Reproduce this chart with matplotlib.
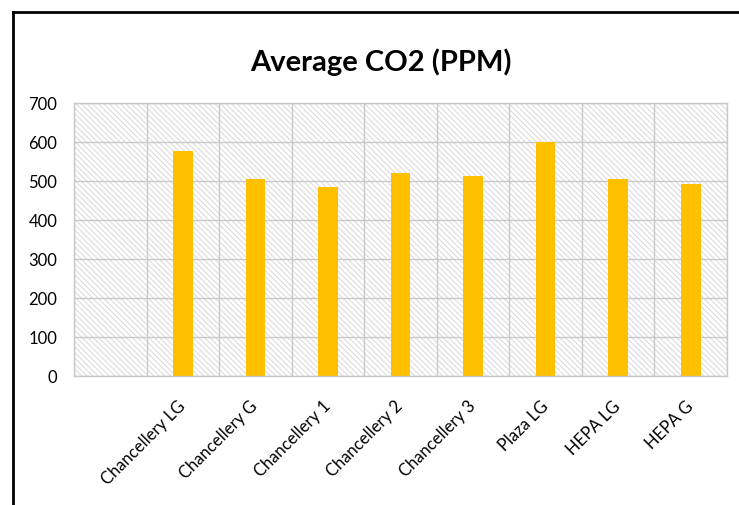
import matplotlib.pyplot as plt
import numpy as np
from matplotlib.patches import Rectangle
from matplotlib.lines import Line2D
from matplotlib.ticker import FixedLocator

# Leading blank slot is part of the source table (empty first row).
locations = ["", "Chancellery LG", "Chancellery G", "Chancellery 1", "Chancellery 2",
             "Chancellery 3", "Plaza LG", "HEPA LG", "HEPA G"]
avg_co2 = [np.nan, 578, 504, 484, 520, 513, 599, 506, 492]
y_ticks = [0, 100, 200, 300, 400, 500, 600, 700]

BAR_COLOR = "#FFC000"
GRID_COLOR = "#c9c9c9"

plt.rcParams["font.family"] = ["Lato", "DejaVu Sans"]
plt.rcParams["hatch.color"] = "#d2d2d2"
plt.rcParams["hatch.linewidth"] = 0.6

fig = plt.figure(figsize=(7.39, 5.05), dpi=100)
ax = fig.add_axes([0.1001, 0.2554, 0.8837, 0.5406])

x = np.arange(len(locations))
ax.add_patch(Rectangle((0, 0), 1, 1, transform=ax.transAxes, facecolor="white",
                       edgecolor="#d2d2d2", hatch="\\" * 6, lw=0, zorder=0.1))
ax.bar(x, avg_co2, width=0.27, color=BAR_COLOR, zorder=2)

ax.set_xlim(-0.5, len(locations) - 0.5)
ax.set_ylim(0, 700)
ax.set_yticks(y_ticks)
ax.set_xticks(x)
ax.set_xticklabels(locations, rotation=45, ha="right", va="center",
                   rotation_mode="anchor", fontsize=12)
ax.xaxis.set_minor_locator(FixedLocator(np.arange(len(locations) + 1) - 0.5))
ax.tick_params(axis="both", which="both", length=0)
ax.tick_params(axis="y", labelsize=12, pad=12)
ax.tick_params(axis="x", pad=20)

ax.set_axisbelow(True)
ax.grid(True, axis="y", color=GRID_COLOR, lw=1)
ax.grid(True, axis="x", which="minor", color=GRID_COLOR, lw=1)
for s in ax.spines.values():
    s.set_color(GRID_COLOR)
    s.set_linewidth(1)

fig.text(381 / 739, 1 - 62 / 505, "Average CO2 (PPM)", ha="center", va="center",
         fontsize=21, fontweight="bold")

# chart frame, clipped on the right and bottom
fig.add_artist(Line2D([13 / 739, 13 / 739], [0, 1 - 12 / 505], transform=fig.transFigure,
                      color="black", lw=2))
fig.add_artist(Line2D([13 / 739, 1], [1 - 12 / 505, 1 - 12 / 505], transform=fig.transFigure,
                      color="black", lw=2))

fig.savefig("out.png", dpi=100)
